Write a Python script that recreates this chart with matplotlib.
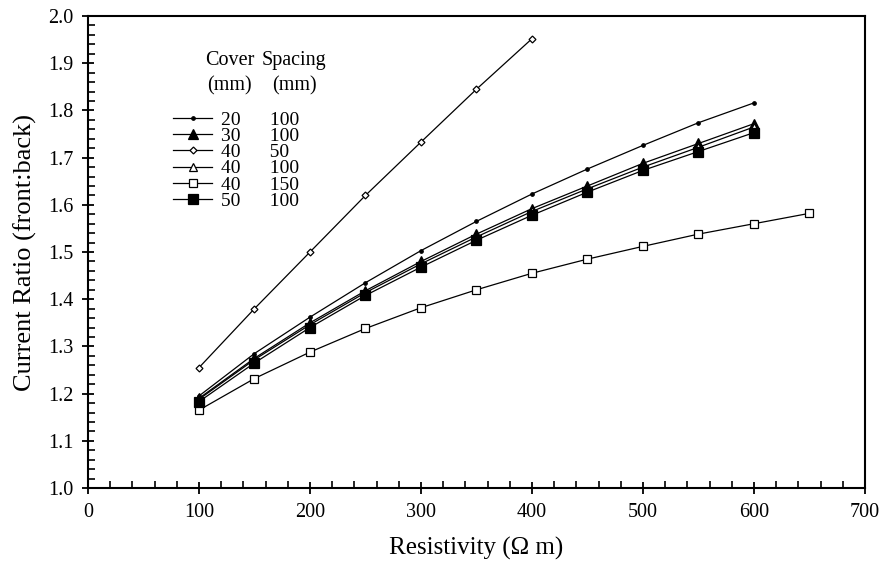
import matplotlib
matplotlib.use("Agg")
import matplotlib.pyplot as plt
from matplotlib.ticker import MultipleLocator

plt.rcParams['font.family'] = ['Liberation Serif', 'DejaVu Serif']

res_a = [100, 150, 200, 250, 300, 350, 400, 450, 500, 550, 600]
res_b = [100, 150, 200, 250, 300, 350, 400]
res_c = [100, 150, 200, 250, 300, 350, 400, 450, 500, 550, 600, 650]

c20_s100 = [1.195, 1.285, 1.362, 1.435, 1.503, 1.565, 1.623, 1.676, 1.726, 1.774, 1.816]
c30_s100 = [1.190, 1.275, 1.350, 1.418, 1.480, 1.538, 1.592, 1.640, 1.688, 1.730, 1.772]
c40_s50 = [1.255, 1.380, 1.500, 1.620, 1.733, 1.845, 1.952]
c40_s100 = [1.188, 1.272, 1.346, 1.414, 1.475, 1.532, 1.586, 1.634, 1.680, 1.722, 1.765]
c40_s150 = [1.165, 1.232, 1.288, 1.338, 1.382, 1.420, 1.455, 1.485, 1.512, 1.538, 1.560, 1.582]
c50_s100 = [1.183, 1.265, 1.340, 1.408, 1.468, 1.525, 1.578, 1.627, 1.673, 1.713, 1.753]

covers = ['20', '30', '40', '40', '40', '50']
spacings = ['100', '100', '50', '100', '150', '100']

fig = plt.figure(figsize=(8.84, 5.73), dpi=100)
ax = fig.add_axes([0.0995, 0.1483, 0.879, 0.8237])

series = [
    (res_a, c20_s100, dict(marker='o', markersize=2.5, mfc='black')),
    (res_a, c30_s100, dict(marker='^', markersize=7, mfc='black')),
    (res_b, c40_s50, dict(marker='D', markersize=3.5, mfc='white')),
    (res_a, c40_s100, dict(marker='^', markersize=6, mfc='white')),
    (res_c, c40_s150, dict(marker='s', markersize=5.5, mfc='white')),
    (res_a, c50_s100, dict(marker='s', markersize=6.5, mfc='black')),
]
handles = []
for x, y, st in series:
    h, = ax.plot(x, y, color='black', lw=0.9, mec='black', mew=0.9, **st)
    handles.append(h)

labels = [f"{c}      {s}" for c, s in zip(covers, spacings)]
leg = ax.legend(handles, labels, loc='upper left', bbox_to_anchor=(0.1, 0.815),
                frameon=False, fontsize=14, handlelength=2.0, handletextpad=0.45,
                labelspacing=-0.07, borderaxespad=0)
hdr = dict(transform=ax.transAxes, fontsize=14.5, ha='left', va='center')
ax.text(0.1506, 0.9068, "Cover", **hdr)
ax.text(0.224, 0.9068, "Spacing", **hdr)
ax.text(0.153, 0.8517, "(mm)", **hdr)
ax.text(0.2368, 0.8517, "(mm)", **hdr)

ax.set_xlim(0, 700)
ax.set_ylim(1.0, 2.0)
ax.xaxis.set_major_locator(MultipleLocator(100))
ax.xaxis.set_minor_locator(MultipleLocator(20))
ax.yaxis.set_major_locator(MultipleLocator(0.1))
ax.yaxis.set_minor_locator(MultipleLocator(0.02))
ax.yaxis.set_major_formatter(plt.FuncFormatter(lambda v, p: f"{v:.1f}"))
ax.tick_params(which='major', direction='inout', length=9, width=1.3, labelsize=14.5, pad=6)
ax.tick_params(which='minor', direction='in', length=5, width=1.2)
ax.tick_params(top=False, right=False)
for s in ax.spines.values():
    s.set_linewidth(1.5)

ax.set_xlabel("Resistivity (Ω m)", fontsize=18, labelpad=11)
ax.set_ylabel("Current Ratio (front:back)", fontsize=19, labelpad=8)

fig.savefig("out.png", dpi=100)
